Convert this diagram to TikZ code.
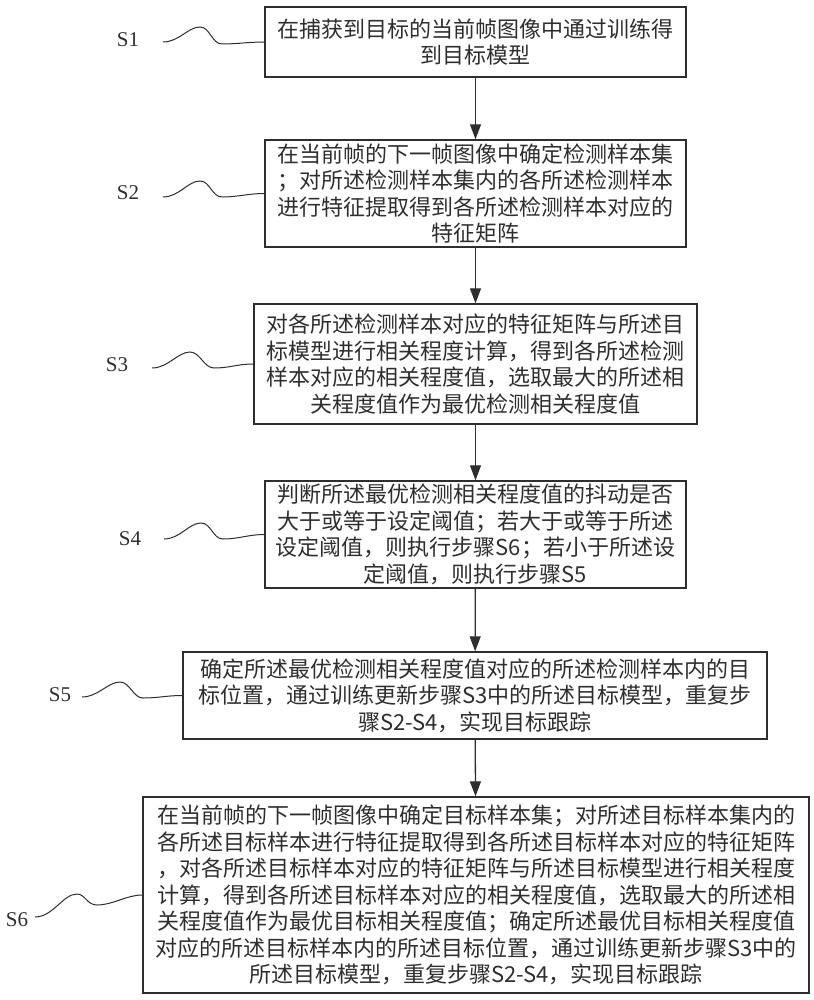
\documentclass[tikz,border=0pt]{standalone}
\usepackage{fontspec}
\setmainfont{Liberation Serif}
\newfontfamily\cjk{Noto Sans CJK SC}
\usetikzlibrary{arrows.meta}
\definecolor{ink}{gray}{0.18}

\begin{document}
\begin{tikzpicture}[x=1pt, y=-1pt,
		stepbox/.style={draw=ink, text=ink, line width=1.4pt, align=center, inner sep=0pt,
			font=\cjk\fontsize{22}{26.5}\selectfont},
		steplab/.style={text=ink, inner sep=0pt, font=\fontsize{21}{24}\selectfont},
		wave/.style={draw=ink, line width=1pt},
		flow/.style={draw=ink, line width=1.3pt, -{Triangle[length=15pt,width=11pt]}}]
			\useasboundingbox (0,0) rectangle (813,1000);
			
			\node[stepbox, minimum width=421pt, minimum height=70pt] (s1) at (475.5,42)
				{在捕获到目标的当前帧图像中通过训练得\\到目标模型};
			\node[stepbox, minimum width=421pt, minimum height=107pt] (s2) at (475.5,193.5)
				{在当前帧的下一帧图像中确定检测样本集\\；对所述检测样本集内的各所述检测样本\\进行特征提取得到各所述检测样本对应的\\特征矩阵};
			\node[stepbox, minimum width=443pt, minimum height=120pt] (s3) at (475.5,364)
				{对各所述检测样本对应的特征矩阵与所述目\\标模型进行相关程度计算，得到各所述检测\\样本对应的相关程度值，选取最大的所述相\\关程度值作为最优检测相关程度值};
			\node[stepbox, minimum width=421pt, minimum height=107pt] (s4) at (475.5,534.5)
				{判断所述最优检测相关程度值的抖动是否\\大于或等于设定阈值；若大于或等于所述\\设定阈值，则执行步骤S6；若小于所述设\\定阈值，则执行步骤S5};
			\node[stepbox, minimum width=584pt, minimum height=87pt] (s5) at (475,695.5)
				{确定所述最优检测相关程度值对应的所述检测样本内的目\\标位置，通过训练更新步骤S3中的所述目标模型，重复步\\骤S2-S4，实现目标跟踪};
			\node[stepbox, minimum width=666pt, minimum height=196pt] (s6) at (476,895)
				{在当前帧的下一帧图像中确定目标样本集；对所述目标样本集内的\\各所述目标样本进行特征提取得到各所述目标样本对应的特征矩阵\\，对各所述目标样本对应的特征矩阵与所述目标模型进行相关程度\\计算，得到各所述目标样本对应的相关程度值，选取最大的所述相\\关程度值作为最优目标相关程度值；确定所述最优目标相关程度值\\对应的所述目标样本内的所述目标位置，通过训练更新步骤S3中的\\所述目标模型，重复步骤S2-S4，实现目标跟踪};
			
			\draw[flow] (s1) -- (s2);
			\draw[flow] (s2) -- (s3);
			\draw[flow] (s3) -- (s4);
			\draw[flow] (s4) -- (s5);
			\draw[flow] (s5) -- (s6);
			
			% step labels
			\node[steplab] (l1) at (128,40) {S1};
			\node[steplab] (l2) at (128,193) {S2};
			\node[steplab] (l3) at (117,365) {S3};
			\node[steplab] (l4) at (130,539) {S4};
			\node[steplab] (l5) at (60,695) {S5};
			\node[steplab] (l6) at (17,920) {S6};
			
			\coordinate (w1) at (163,42);
			\coordinate (w2) at (163,197);
			\coordinate (w3) at (152,368);
			\coordinate (w4) at (164,539);
			\coordinate (w5) at (82,697);
			\coordinate (w6) at (35,917);
			
			\draw[wave] (w1) .. controls +(16,0) and +(-12,0) .. ++(37,-15) .. controls +(10,0) and +(-10,0) .. ++(22,17) .. controls +(16,0) and +(-16,0) .. (s1.west);
			\draw[wave] (w2) .. controls +(16,0) and +(-12,0) .. ++(37,-16) .. controls +(10,0) and +(-10,0) .. ++(22,16) .. controls +(16,0) and +(-16,0) .. (s2.west);
			\draw[wave] (w3) .. controls +(16,0) and +(-12,0) .. ++(38,-16) .. controls +(10,0) and +(-10,0) .. ++(24,16) .. controls +(16,0) and +(-16,0) .. (s3.west);
			\draw[wave] (w4) .. controls +(16,0) and +(-12,0) .. ++(37,-16) .. controls +(10,0) and +(-10,0) .. ++(22,16) .. controls +(16,0) and +(-16,0) .. (s4.west);
			\draw[wave] (w5) .. controls +(16,0) and +(-12,0) .. ++(38,-15) .. controls +(10,0) and +(-10,0) .. ++(23,16) .. controls +(16,0) and +(-16,0) .. (s5.west);
			\draw[wave] (w6) .. controls +(18,0) and +(-14,0) .. ++(42,-23) .. controls +(8,0) and +(-10,0) .. ++(20,11) .. controls +(16,0) and +(-16,0) .. (s6.west);
		\end{tikzpicture}
\end{document}
